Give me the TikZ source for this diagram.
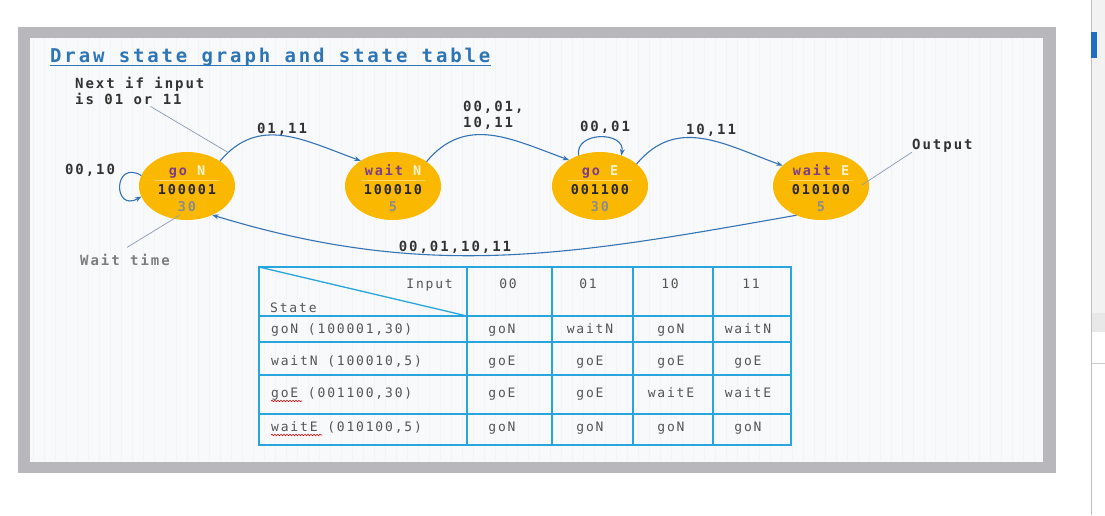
\documentclass[tikz,border=0pt]{standalone}
\usepackage{fontspec}
\usetikzlibrary{arrows.meta,calc,shapes.geometric,decorations.pathmorphing}
\newfontfamily\slidemono{DejaVu Sans Mono}[LetterSpace=14]
\newfontfamily\titlemono{DejaVu Sans Mono}[LetterSpace=15]
\definecolor{FrameClr}{RGB}{183,183,188}
\definecolor{SlideClr}{RGB}{248,249,251}
\definecolor{GridClr}{RGB}{242,244,248}
\definecolor{TitleClr}{RGB}{46,117,182}
\definecolor{StateClr}{RGB}{250,185,0}
\definecolor{StateLine}{RGB}{255,214,110}
\definecolor{GoClr}{RGB}{125,60,140}
\definecolor{DirClr}{RGB}{255,244,210}
\definecolor{TimeClr}{RGB}{140,140,140}
\definecolor{CodeClr}{RGB}{40,40,40}
\definecolor{EdgeClr}{RGB}{52,115,180}
\definecolor{LeaderClr}{RGB}{140,155,175}
\definecolor{LabelClr}{RGB}{51,51,51}
\definecolor{NoteClr}{RGB}{125,125,125}
\definecolor{TableClr}{RGB}{40,165,220}
\definecolor{CellClr}{RGB}{85,85,85}
\definecolor{ScrollClr}{RGB}{30,110,195}

\tikzset{
  state/.style={ellipse,fill=StateClr,draw=none,minimum width=96pt,minimum height=68pt,inner sep=0pt,outer sep=0pt},
  stxt/.style={inner sep=0pt,anchor=base,font=\slidemono\bfseries\fontsize{13.5}{16}\selectfont},
  lbl/.style={inner sep=0pt,text=LabelClr,font=\slidemono\bfseries\fontsize{14}{16}\selectfont},
  trans/.style={draw=EdgeClr,line width=1.1pt,-{Stealth[length=6.5pt,width=5pt]}},
  leader/.style={draw=LeaderClr,line width=0.7pt},
  cell/.style={inner sep=0pt,anchor=base,text=CellClr,font=\slidemono\fontsize{13}{15}\selectfont},
  tline/.style={draw=TableClr,line width=1.8pt},
  spell/.style={draw=red!85!black,line width=0.6pt,decorate,decoration={snake,amplitude=0.7pt,segment length=3pt}}
}

\begin{document}
\begin{tikzpicture}[x=1pt,y=-1pt]
\useasboundingbox (0,0) rectangle (1105,515);
% window and slide
\fill[white] (0,0) rectangle (1105,515);
\fill[FrameClr] (18,27) rectangle (1056,473);
\fill[SlideClr] (30,38) rectangle (1043,462);
\draw[GridClr,step=11,line width=0.3pt] (30,38) grid (1043,462);

% scroll bar
\fill[black!5] (1091,0) rectangle (1105,313);
\fill[black!9] (1091,313) rectangle (1105,332);
\draw[black!20,line width=0.6pt] (1091,363) -- (1105,363);
\draw[black!25,line width=0.8pt] (1091,0) -- (1091,515);
\fill[ScrollClr] (1091,32) rectangle (1097,58);

% title
\node[inner sep=0pt,anchor=base west,text=TitleClr,font=\titlemono\bfseries\fontsize{19}{22}\selectfont] (title) at (50,62) {Draw state graph and state table};
\draw[TitleClr,line width=1.2pt] ([yshift=-3.5pt]title.base west) -- ([yshift=-3.5pt]title.base east);

% states
\foreach \s/\x/\a/\b/\code/\t in {goN/187/go/N/100001/30, waitN/393/wait/N/100010/5, goE/600/go/E/001100/30, waitE/821/wait/E/010100/5}{
  \node[state] (\s) at (\x,186) {};
  \draw[StateLine,line width=0.6pt] ($(\s)+(-32,-6)$) -- ($(\s)+(32,-6)$);
  \node[stxt] (\s-name) at ($(\s)+(0,-11)$) {\textcolor{GoClr}{\a} \textcolor{DirClr}{\b}};
  \node[stxt,text=CodeClr] (\s-out) at ($(\s)+(0,8)$) {\code};
  \node[stxt,text=TimeClr] (\s-time) at ($(\s)+(0,25)$) {\t};
}

% transitions
\draw[trans] (goN.37) to[out=50,in=160,looseness=1.1] node[pos=0.07,coordinate] (nextpt) {} (waitN.142);
\draw[trans] (waitN.36) to[out=50,in=160,looseness=1.1] (goE.140);
\draw[trans] (goE.31) to[out=50,in=160,looseness=1.1] (waitE.152);
\draw[trans] (goE.125) to[out=100,in=80,looseness=1.5] (goE.55);
\draw[trans] (goN.167) to[out=150,in=210,looseness=4] (goN.193);
\draw[trans] (waitE.230) to[out=190,in=-17] (goN.311);

\node[lbl,anchor=base] (l-nw) at (282,133) {01,11};
\node[lbl,anchor=base west] (l-we1) at (463,111) {00,01,};
\node[lbl,anchor=base west] (l-we2) at (463,127) {10,11};
\node[lbl,anchor=base] (l-ee) at (605,131) {00,01};
\node[lbl,anchor=base] (l-ew) at (711,134) {10,11};
\node[lbl,anchor=base] (l-nn) at (90,174) {00,10};
\node[lbl,anchor=base] (l-back) at (455,251) {00,01,10,11};

% notes
\node[lbl,anchor=base west] (nextnote) at (75,88) {Next if input};
\node[lbl,anchor=base west] (nextnote2) at (75,104) {is 01 or 11};
\draw[leader] ($(nextnote2.south)+(22,2)$) -- (nextpt);
\node[lbl,anchor=base west] (outnote) at (912,149) {Output};
\draw[leader] (outnote.south west) -- ($(waitE)+(41,-1)$);
\node[lbl,anchor=base west,text=NoteClr] (waitnote) at (80,265) {Wait time};
\draw[leader] ($(waitnote.north)+(2,-6)$) -- ($(goN)+(-7,29)$);

% state table
\draw[tline] (259,267) rectangle (791,445);
\foreach \x in {467,552,633,713} \draw[tline] (\x,267) -- (\x,445);
\foreach \y in {316,342,375,414} \draw[tline] (259,\y) -- (791,\y);
\draw[TableClr,line width=1.3pt] (259,267) -- (467,316);

\node[cell,anchor=base east] (hdr-in) at (453,288) {Input};
\node[cell,anchor=base west] (hdr-st) at (270,312) {State};
\foreach \h/\cx in {00/508,01/588,10/670,11/751}
  \node[cell] (hdr-\h) at (\cx,288) {\h};

\foreach \lab/\yb/\va/\vb/\vc/\vd [count=\ri] in {{goN (100001,30)}/333/goN/waitN/goN/waitN, {waitN (100010,5)}/365/goE/goE/goE/goE, {goE (001100,30)}/397/goE/goE/waitE/waitE, {waitE (010100,5)}/431/goN/goN/goN/goN}{
  \node[cell,anchor=base west] (row-\ri) at (271,\yb) {\lab};
  \foreach \v/\cx [count=\ci] in {\va/502,\vb/590,\vc/671,\vd/748}
    \node[cell] (cell-\ri-\ci) at (\cx,\yb) {\v};
}
\draw[spell] ([yshift=-4pt]row-3.base west) -- ++(31,0);
\draw[spell] ([yshift=-4pt]row-4.base west) -- ++(51,0);
\end{tikzpicture}
\end{document}
